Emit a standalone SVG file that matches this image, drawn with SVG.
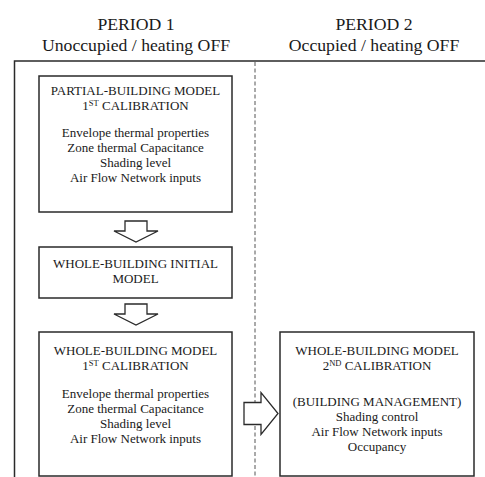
<svg xmlns="http://www.w3.org/2000/svg" width="485" height="477" viewBox="0 0 485 477">
<style>
.t{font-family:"Liberation Serif","Times New Roman",serif;font-size:13px;fill:#1a1a1a;text-anchor:middle}
.h{font-family:"Liberation Serif","Times New Roman",serif;font-size:17.7px;fill:#1a1a1a;text-anchor:middle}
.sup{font-size:8.5px}
.box{fill:#fff;stroke:#2a2a2a;stroke-width:1.5}
.arr{fill:#fff;stroke:#2a2a2a;stroke-width:1.3;stroke-linejoin:miter}
.frame{fill:none;stroke:#2a2a2a;stroke-width:1.5}
.dash{fill:none;stroke:#555;stroke-width:1;stroke-dasharray:4 2.5}
</style>
<g id="headers">
<text class="h" x="136" y="30">PERIOD 1</text>
<text class="h" x="136" y="51">Unoccupied / heating OFF</text>
<text class="h" x="374" y="30">PERIOD 2</text>
<text class="h" x="374" y="51">Occupied / heating OFF</text>
</g>
<g id="frame">
<path class="frame" d="M14.5 477 V61 H485"/>
<path class="dash" d="M255 62 V477"/>
</g>
<g id="connectors">
<path class="arr" d="M125 221 H147 V231 H158 L136 242 L114 231 H125 Z"/>
<path class="arr" d="M125 304 H147 V314 H158 L136 325 L114 314 H125 Z"/>
<path class="arr" d="M244 402.5 H261 V392.5 L278 413.5 L261 434.5 V424.5 H244 Z"/>
</g>
<g id="box1">
<rect class="box" x="39" y="76" width="193" height="136"/>
<text class="t" x="135.5" y="95">PARTIAL-BUILDING MODEL</text>
<text class="t" x="135.5" y="110">1<tspan class="sup" dy="-4.5">ST</tspan><tspan dy="4.5"> CALIBRATION</tspan></text>
<text class="t" x="135.5" y="136.5">Envelope thermal properties</text>
<text class="t" x="135.5" y="151.5">Zone thermal Capacitance</text>
<text class="t" x="135.5" y="166.5">Shading level</text>
<text class="t" x="135.5" y="181.5">Air Flow Network inputs</text>
</g>
<g id="box2">
<rect class="box" x="39" y="247" width="193" height="51"/>
<text class="t" x="135.5" y="268">WHOLE-BUILDING INITIAL</text>
<text class="t" x="135.5" y="283">MODEL</text>
</g>
<g id="box3">
<rect class="box" x="39" y="332" width="193" height="144"/>
<text class="t" x="135.5" y="355">WHOLE-BUILDING MODEL</text>
<text class="t" x="135.5" y="370">1<tspan class="sup" dy="-4.5">ST</tspan><tspan dy="4.5"> CALIBRATION</tspan></text>
<text class="t" x="135.5" y="398">Envelope thermal properties</text>
<text class="t" x="135.5" y="413">Zone thermal Capacitance</text>
<text class="t" x="135.5" y="428">Shading level</text>
<text class="t" x="135.5" y="443">Air Flow Network inputs</text>
</g>
<g id="box4">
<rect class="box" x="280" y="332" width="194" height="144"/>
<text class="t" x="377" y="355">WHOLE-BUILDING MODEL</text>
<text class="t" x="377" y="370">2<tspan class="sup" dy="-4.5">ND</tspan><tspan dy="4.5"> CALIBRATION</tspan></text>
<text class="t" x="377" y="406">(BUILDING MANAGEMENT)</text>
<text class="t" x="377" y="421">Shading control</text>
<text class="t" x="377" y="436">Air Flow Network inputs</text>
<text class="t" x="377" y="451">Occupancy</text>
</g>
</svg>
